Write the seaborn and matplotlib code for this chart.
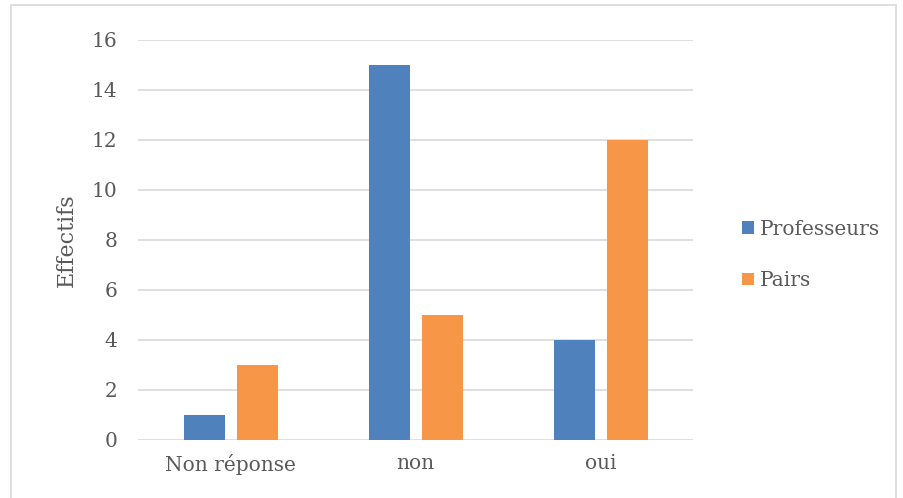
import pandas as pd
import matplotlib.pyplot as plt
import seaborn as sns
from matplotlib.patches import Rectangle

# Chart data
categories = ["Non réponse", "non", "oui"]
professeurs = [1, 15, 4]
pairs = [3, 5, 12]
series_names = ["Professeurs", "Pairs"]
yticks = [0, 2, 4, 6, 8, 10, 12, 14, 16]

df = pd.DataFrame({
    "categorie": categories * 2,
    "groupe": [series_names[0]] * 3 + [series_names[1]] * 3,
    "effectif": professeurs + pairs,
})

sns.set_theme(style="white")
plt.rcParams['font.family'] = ['DejaVu Serif']

text_color = '#595959'
grid_color = '#D9D9D9'

fig = plt.figure(figsize=(9.04, 4.98), dpi=100)
ax = fig.add_axes([0.1527, 0.1165, 0.614, 0.8032])

sns.barplot(data=df, x="categorie", y="effectif", hue="groupe",
            palette=["#4F81BD", "#F79646"], width=0.573, gap=0.225,
            saturation=1, linewidth=0, ax=ax, zorder=3)

ax.set_ylim(0, 16)
ax.set_yticks(yticks)
ax.set_xlim(-0.5, 2.5)
ax.yaxis.grid(True, color=grid_color, linewidth=1.2, zorder=0)
ax.set_axisbelow(True)
for s in ax.spines.values():
    s.set_visible(False)

ax.tick_params(axis='y', length=0, pad=15, labelsize=14.5, labelcolor=text_color)
ax.tick_params(axis='x', length=0, pad=10, labelsize=14.5, labelcolor=text_color)
ax.set_xlabel("")
ax.set_ylabel("Effectifs", fontsize=16, color=text_color, labelpad=10)

handles, labels = ax.get_legend_handles_labels()
ax.legend(handles, labels, loc='center left', bbox_to_anchor=(1.055, 0.4625),
          frameon=False, fontsize=14.5, labelcolor=text_color,
          handlelength=0.6, handleheight=0.6, handletextpad=0.3,
          labelspacing=1.6)

# thin outer chart border
fig.patches.append(Rectangle((11 / 904, -0.01), 885 / 904, 1 - 5 / 498 + 0.01,
                             transform=fig.transFigure, fill=False,
                             edgecolor=grid_color, linewidth=1.2))

fig.savefig("out.png", dpi=100)
